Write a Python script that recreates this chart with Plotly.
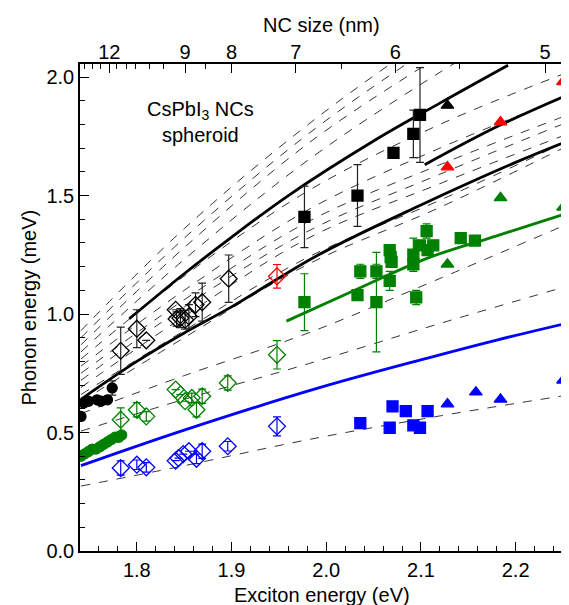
import plotly.graph_objects as go

# dashed model curves: x grid and values per curve
dash_x = [1.741, 1.85, 1.981, 2.12, 2.255]
dash_curves = [
    [0.93, 1.36, 1.80, 2.20, 2.55],
    [0.90, 1.32, 1.76, 2.15, 2.50],
    [0.87, 1.28, 1.72, 2.09, 2.42],
    [0.84, 1.23, 1.65, 2.02, 2.34],
    [0.81, 1.16, 1.52, 1.80, 2.02],
    [0.78, 1.10, 1.44, 1.70, 1.92],
    [0.75, 1.06, 1.39, 1.63, 1.84],
    [0.72, 1.03, 1.35, 1.59, 1.81],
    [0.69, 0.99, 1.32, 1.55, 1.76],
    [0.66, 0.93, 1.24, 1.48, 1.73],
    [0.63, 0.90, 1.21, 1.45, 1.71],
    [0.58, 0.74, 0.92, 1.15, 1.38],
    [0.506, 0.64, 0.79, 0.96, 1.118],
    [0.274, 0.36, 0.47, 0.57, 0.658],
]

# solid model curves
blk_low_x = [1.741, 1.80, 1.85, 1.90, 1.992, 2.10, 2.20, 2.255]
blk_low_y = [0.64, 0.80, 0.92, 1.03, 1.25, 1.46, 1.64, 1.73]
blk_up_x = [1.792, 1.85, 1.897, 1.96, 2.05, 2.12, 2.192]
blk_up_y = [0.98, 1.17, 1.315, 1.50, 1.73, 1.89, 2.05]
blk_mid_x = [2.104, 2.18, 2.255]
blk_mid_y = [1.63, 1.79, 1.925]
grn_line_x = [1.958, 2.03, 2.107, 2.18, 2.255]
grn_line_y = [0.97, 1.10, 1.236, 1.33, 1.426]
blu_line_x = [1.741, 1.85, 1.992, 2.107, 2.18, 2.255]
blu_line_y = [0.36, 0.51, 0.688, 0.814, 0.89, 0.962]

# data points
blk_circ_x = [1.741, 1.744, 1.749, 1.758, 1.762, 1.769, 1.774]
blk_circ_y = [0.568, 0.624, 0.632, 0.638, 0.632, 0.638, 0.688]
blk_circ_e = [0, 0, 0, 0, 0, 0, 0.03]
grn_circ_x = [1.741, 1.745, 1.749, 1.753, 1.757, 1.761, 1.765, 1.769, 1.773, 1.777, 1.781, 1.784]
grn_circ_y = [0.40, 0.41, 0.42, 0.43, 0.43, 0.44, 0.45, 0.46, 0.47, 0.48, 0.48, 0.49]

blk_dia_x = [1.783, 1.800, 1.810, 1.841, 1.842, 1.846, 1.851, 1.855, 1.862, 1.869, 1.897]
blk_dia_y = [0.845, 0.938, 0.889, 1.018, 0.979, 0.983, 0.976, 0.99, 1.039, 1.05, 1.149]
blk_dia_e = [0.10, 0.08, 0, 0, 0.03, 0.04, 0.04, 0.05, 0.05, 0.08, 0.10]
red_dia_x = [1.948]
red_dia_y = [1.159]
red_dia_e = [0.05]
grn_dia_x = [1.783, 1.800, 1.810, 1.841, 1.846, 1.851, 1.858, 1.863, 1.869, 1.896, 1.948]
grn_dia_y = [0.554, 0.596, 0.568, 0.681, 0.66, 0.632, 0.646, 0.596, 0.653, 0.709, 0.828]
grn_dia_e = [0.05, 0.03, 0.02, 0, 0, 0, 0.02, 0.03, 0.03, 0.03, 0.06]
blu_dia_x = [1.783, 1.800, 1.810, 1.841, 1.844, 1.849, 1.855, 1.863, 1.869, 1.896, 1.948]
blu_dia_y = [0.350, 0.364, 0.353, 0.381, 0.392, 0.409, 0.421, 0.389, 0.421, 0.442, 0.526]
blu_dia_e = [0.03, 0.02, 0.02, 0, 0, 0, 0, 0.02, 0.03, 0.02, 0.04]

blk_sq_x = [1.977, 2.033, 2.071, 2.092, 2.099]
blk_sq_y = [1.41, 1.50, 1.68, 1.76, 1.84]
blk_sq_e = [0.13, 0.13, 0, 0.10, 0.20]
grn_sq_x = [1.977, 2.033, 2.036, 2.053, 2.053, 2.067, 2.068, 2.069, 2.067, 2.092, 2.092,
            2.095, 2.099, 2.106, 2.107, 2.113, 2.142, 2.157]
grn_sq_y = [1.05, 1.08, 1.18, 1.18, 1.05, 1.27, 1.24, 1.22, 1.14, 1.25, 1.21,
            1.07, 1.29, 1.35, 1.27, 1.29, 1.32, 1.31]
grn_sq_e = [0.12, 0, 0.03, 0.03, 0.21, 0, 0, 0, 0.04, 0.07, 0,
            0.03, 0, 0.03, 0, 0, 0.02, 0]
blu_sq_x = [2.036, 2.070, 2.067, 2.084, 2.092, 2.099, 2.107]
blu_sq_y = [0.54, 0.61, 0.52, 0.59, 0.53, 0.52, 0.59]

blk_tri_x = [2.128]
blk_tri_y = [1.88]
red_tri_x = [2.128, 2.184, 2.250]
red_tri_y = [1.62, 1.81, 1.98]
grn_tri_x = [2.128, 2.184, 2.250]
grn_tri_y = [1.21, 1.49, 1.45]
blu_tri_x = [2.128, 2.158, 2.184, 2.250]
blu_tri_y = [0.62, 0.67, 0.64, 0.72]

# top axis: NC size
nc_vals = [1.771, 1.851, 1.900, 1.968, 2.073, 2.231]
nc_text = ["12", "9", "8", "7", "6", "5"]
nc_minor = [1.745, 1.753, 1.762, 1.779, 1.789, 1.799, 1.813, 1.828, 1.872, 2.016, 2.141]

BLUE = "#0000ff"
GREEN = "#008000"
RED = "#ff0000"
XR = [1.74, 2.25]

fig = go.Figure()

for ys in dash_curves:
    fig.add_trace(go.Scatter(x=dash_x, y=ys, mode="lines", line_shape="spline",
                             line=dict(color="black", width=0.8, dash="dash")))

for xs, ys, c in [(blk_low_x, blk_low_y, "black"), (blk_up_x, blk_up_y, "black"),
                  (blk_mid_x, blk_mid_y, "black"), (grn_line_x, grn_line_y, GREEN),
                  (blu_line_x, blu_line_y, BLUE)]:
    fig.add_trace(go.Scatter(x=xs, y=ys, mode="lines", line_shape="spline",
                             line=dict(color=c, width=2.8)))


def pts(xs, ys, color, symbol, size, err=None):
    m = dict(color=color, symbol=symbol, size=size, line=dict(color=color, width=1.3))
    kw = {}
    if err is not None:
        kw["error_y"] = dict(type="data", array=err, color=color if color != "black" else "#222",
                             width=4, thickness=1.2)
    fig.add_trace(go.Scatter(x=xs, y=ys, mode="markers", marker=m, **kw))


pts(grn_circ_x, grn_circ_y, GREEN, "circle", 10)
pts(blk_circ_x, blk_circ_y, "black", "circle", 10, blk_circ_e)
pts(blk_dia_x, blk_dia_y, "black", "diamond-open", 13, blk_dia_e)
pts(red_dia_x, red_dia_y, RED, "diamond-open", 13, red_dia_e)
pts(grn_dia_x, grn_dia_y, GREEN, "diamond-open", 13, grn_dia_e)
pts(blu_dia_x, blu_dia_y, BLUE, "diamond-open", 13, blu_dia_e)
pts(blk_sq_x, blk_sq_y, "black", "square", 11, blk_sq_e)
pts(grn_sq_x, grn_sq_y, GREEN, "square", 11, grn_sq_e)
pts(blu_sq_x, blu_sq_y, BLUE, "square", 11)
pts(blk_tri_x, blk_tri_y, "black", "triangle-up", 11)
pts(red_tri_x, red_tri_y, RED, "triangle-up", 11)
pts(grn_tri_x, grn_tri_y, GREEN, "triangle-up", 11)
pts(blu_tri_x, blu_tri_y, BLUE, "triangle-up", 11)

# dummy traces to activate top axes
for xa in ["x2", "x3"]:
    fig.add_trace(go.Scatter(x=[nc_vals[0]], y=[0], xaxis=xa, mode="markers",
                             marker=dict(opacity=0), hoverinfo="skip"))

FS = 20
ax = dict(showline=True, linecolor="black", linewidth=1.5, mirror=True, ticks="inside",
          ticklen=9, tickcolor="black", showgrid=False, zeroline=False, automargin=False,
          tickfont=dict(size=FS, color="black"))
top = dict(range=XR, overlaying="x", side="top", showline=False, ticks="inside",
           tickcolor="black", showgrid=False, zeroline=False, automargin=False,
           tickfont=dict(size=FS, color="black"))
fig.update_layout(
    width=569, height=605, showlegend=False,
    plot_bgcolor="white", paper_bgcolor="white",
    font=dict(family="Liberation Sans, Arial", color="black"),
    margin=dict(l=72, r=14, t=56, b=62),
    xaxis=dict(range=XR, tickvals=[1.8, 1.9, 2.0, 2.1, 2.2],
               ticktext=["1.8", "1.9", "2.0", "2.1", "2.2"],
               minor=dict(ticks="inside", ticklen=5, dtick=0.02, tickcolor="black"), **ax),
    xaxis2=dict(tickvals=nc_vals, ticktext=nc_text, ticklen=9, **top),
    xaxis3=dict(tickvals=nc_minor, showticklabels=False, ticklen=5, **top),
    yaxis=dict(range=[0, 2.055], tickvals=[0, 0.5, 1.0, 1.5, 2.0],
               ticktext=["0.0", "0.5", "1.0", "1.5", "2.0"],
               minor=dict(ticks="inside", ticklen=5, dtick=0.1, tickcolor="black"), **ax),
    annotations=[
        dict(x=1.867, y=1.81, xref="x", yref="y", showarrow=False,
             text="CsPbI<sub>3</sub> NCs<br>spheroid", font=dict(size=FS)),
        dict(x=0.5, y=0, xref="paper", yref="paper", yshift=-44, yanchor="middle",
             xanchor="center", showarrow=False,
             text="Exciton energy (eV)", font=dict(size=FS)),
        dict(x=0.5, y=1, xref="paper", yref="paper", yshift=39, yanchor="middle",
             xanchor="center", showarrow=False,
             text="NC size (nm)", font=dict(size=FS)),
        dict(x=0, y=0.5, xref="paper", yref="paper", xshift=-52, xanchor="center",
             yanchor="middle", showarrow=False,
             textangle=-90, text="Phonon energy (meV)", font=dict(size=FS)),
    ],
)

fig.write_html("out.html")
